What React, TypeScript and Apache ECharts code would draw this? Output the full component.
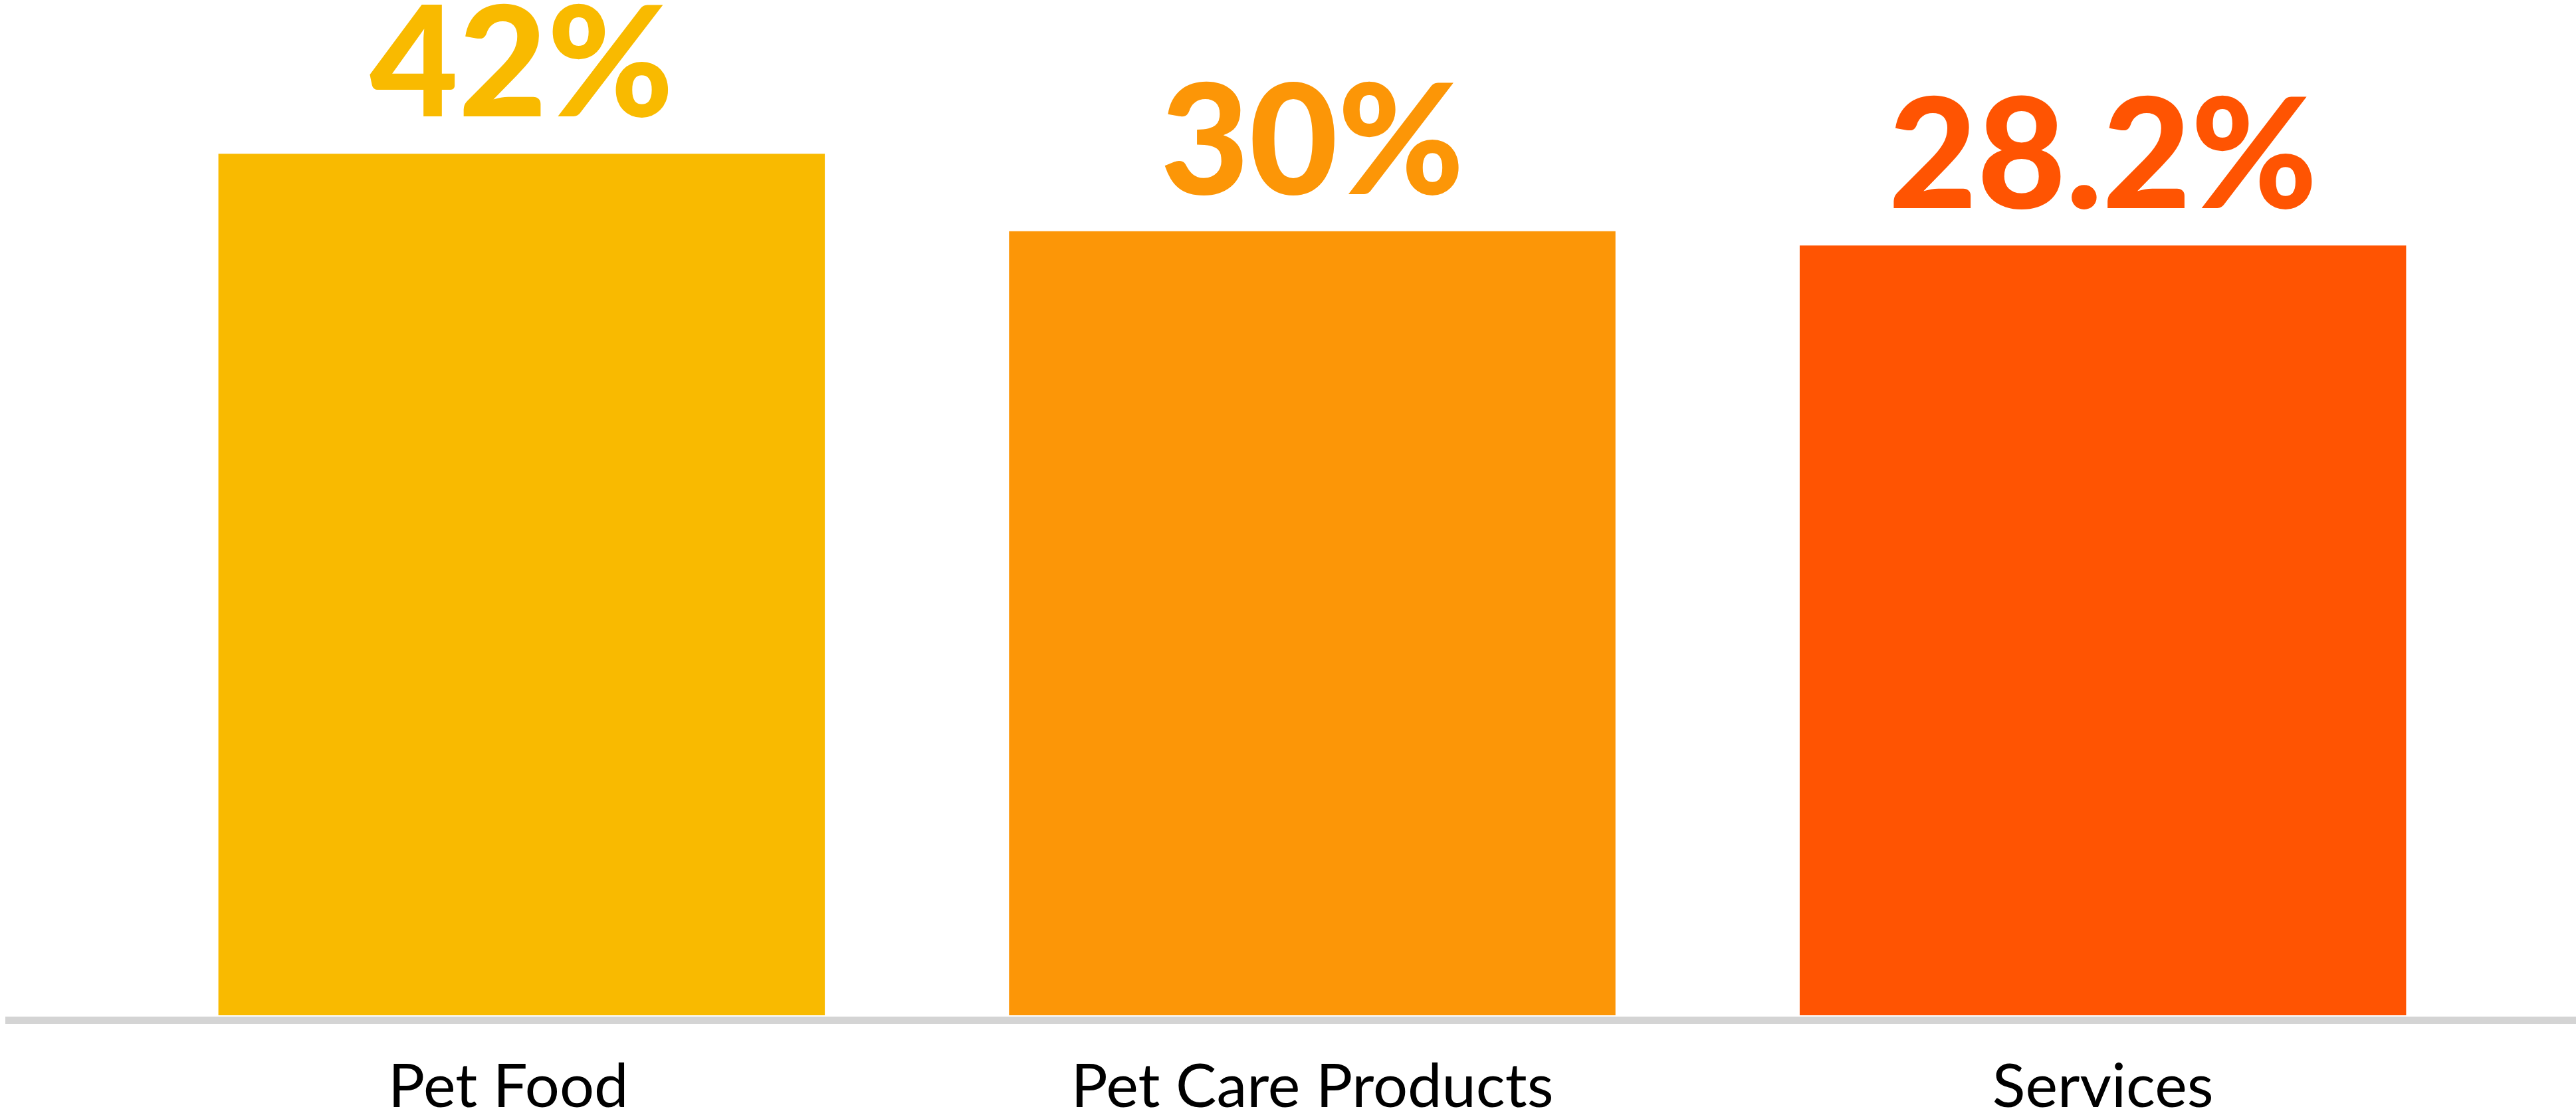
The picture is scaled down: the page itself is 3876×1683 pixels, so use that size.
import React, { useEffect, useRef } from "react";
import * as echarts from "echarts";

const categories = ["Pet Food", "Pet Care Products", "Services"];
const shares = [42, 30, 28.2];
const barColors = ["#F9BA00", "#FC9607", "#FF5402"];

export default function App() {
  const ref = useRef<HTMLDivElement>(null);
  useEffect(() => {
    if (!ref.current) return;
    const chart = echarts.init(ref.current, undefined, { renderer: "svg" });
    chart.setOption({
      animation: false,
      backgroundColor: "#ffffff",
      grid: { left: 190, right: 117, top: 170.7, bottom: 156, containLabel: false },
      xAxis: {
        type: "category",
        data: categories.map((c, i) =>
          i === 0 ? { value: c, textStyle: { padding: [0, 40, 0, 0] } } : c
        ),
        axisLine: { show: false },
        axisTick: { show: false },
        axisLabel: {
          color: "#000000",
          fontFamily: "Lato",
          fontSize: 92,
          lineHeight: 80,
          margin: 62,
        },
      },
      yAxis: {
        type: "log",
        min: 1,
        max: 50,
        show: false,
        splitLine: { show: false },
      },
      graphic: [
        {
          type: "rect",
          shape: { x: 8, y: 1529, width: 3868, height: 11 },
          style: { fill: "#D4D4D4" },
          z: 10,
        },
      ],
      series: [
        {
          type: "bar",
          barCategoryGap: "23.3%",
          data: shares.map((v, i) => ({
            value: v,
            itemStyle: { color: barColors[i] },
            label: { color: barColors[i] },
          })),
          label: {
            show: true,
            position: "top",
            distance: 65,
            formatter: "{c}%",
            fontFamily: "Lato",
            fontWeight: 900,
            fontSize: 230,
            lineHeight: 160,
          },
        },
      ],
    });
    return () => chart.dispose();
  }, []);
  return (
    <div
      ref={ref}
      style={{ position: "absolute", left: 0, top: 0, width: 3876, height: 1683 }}
    />
  );
}
